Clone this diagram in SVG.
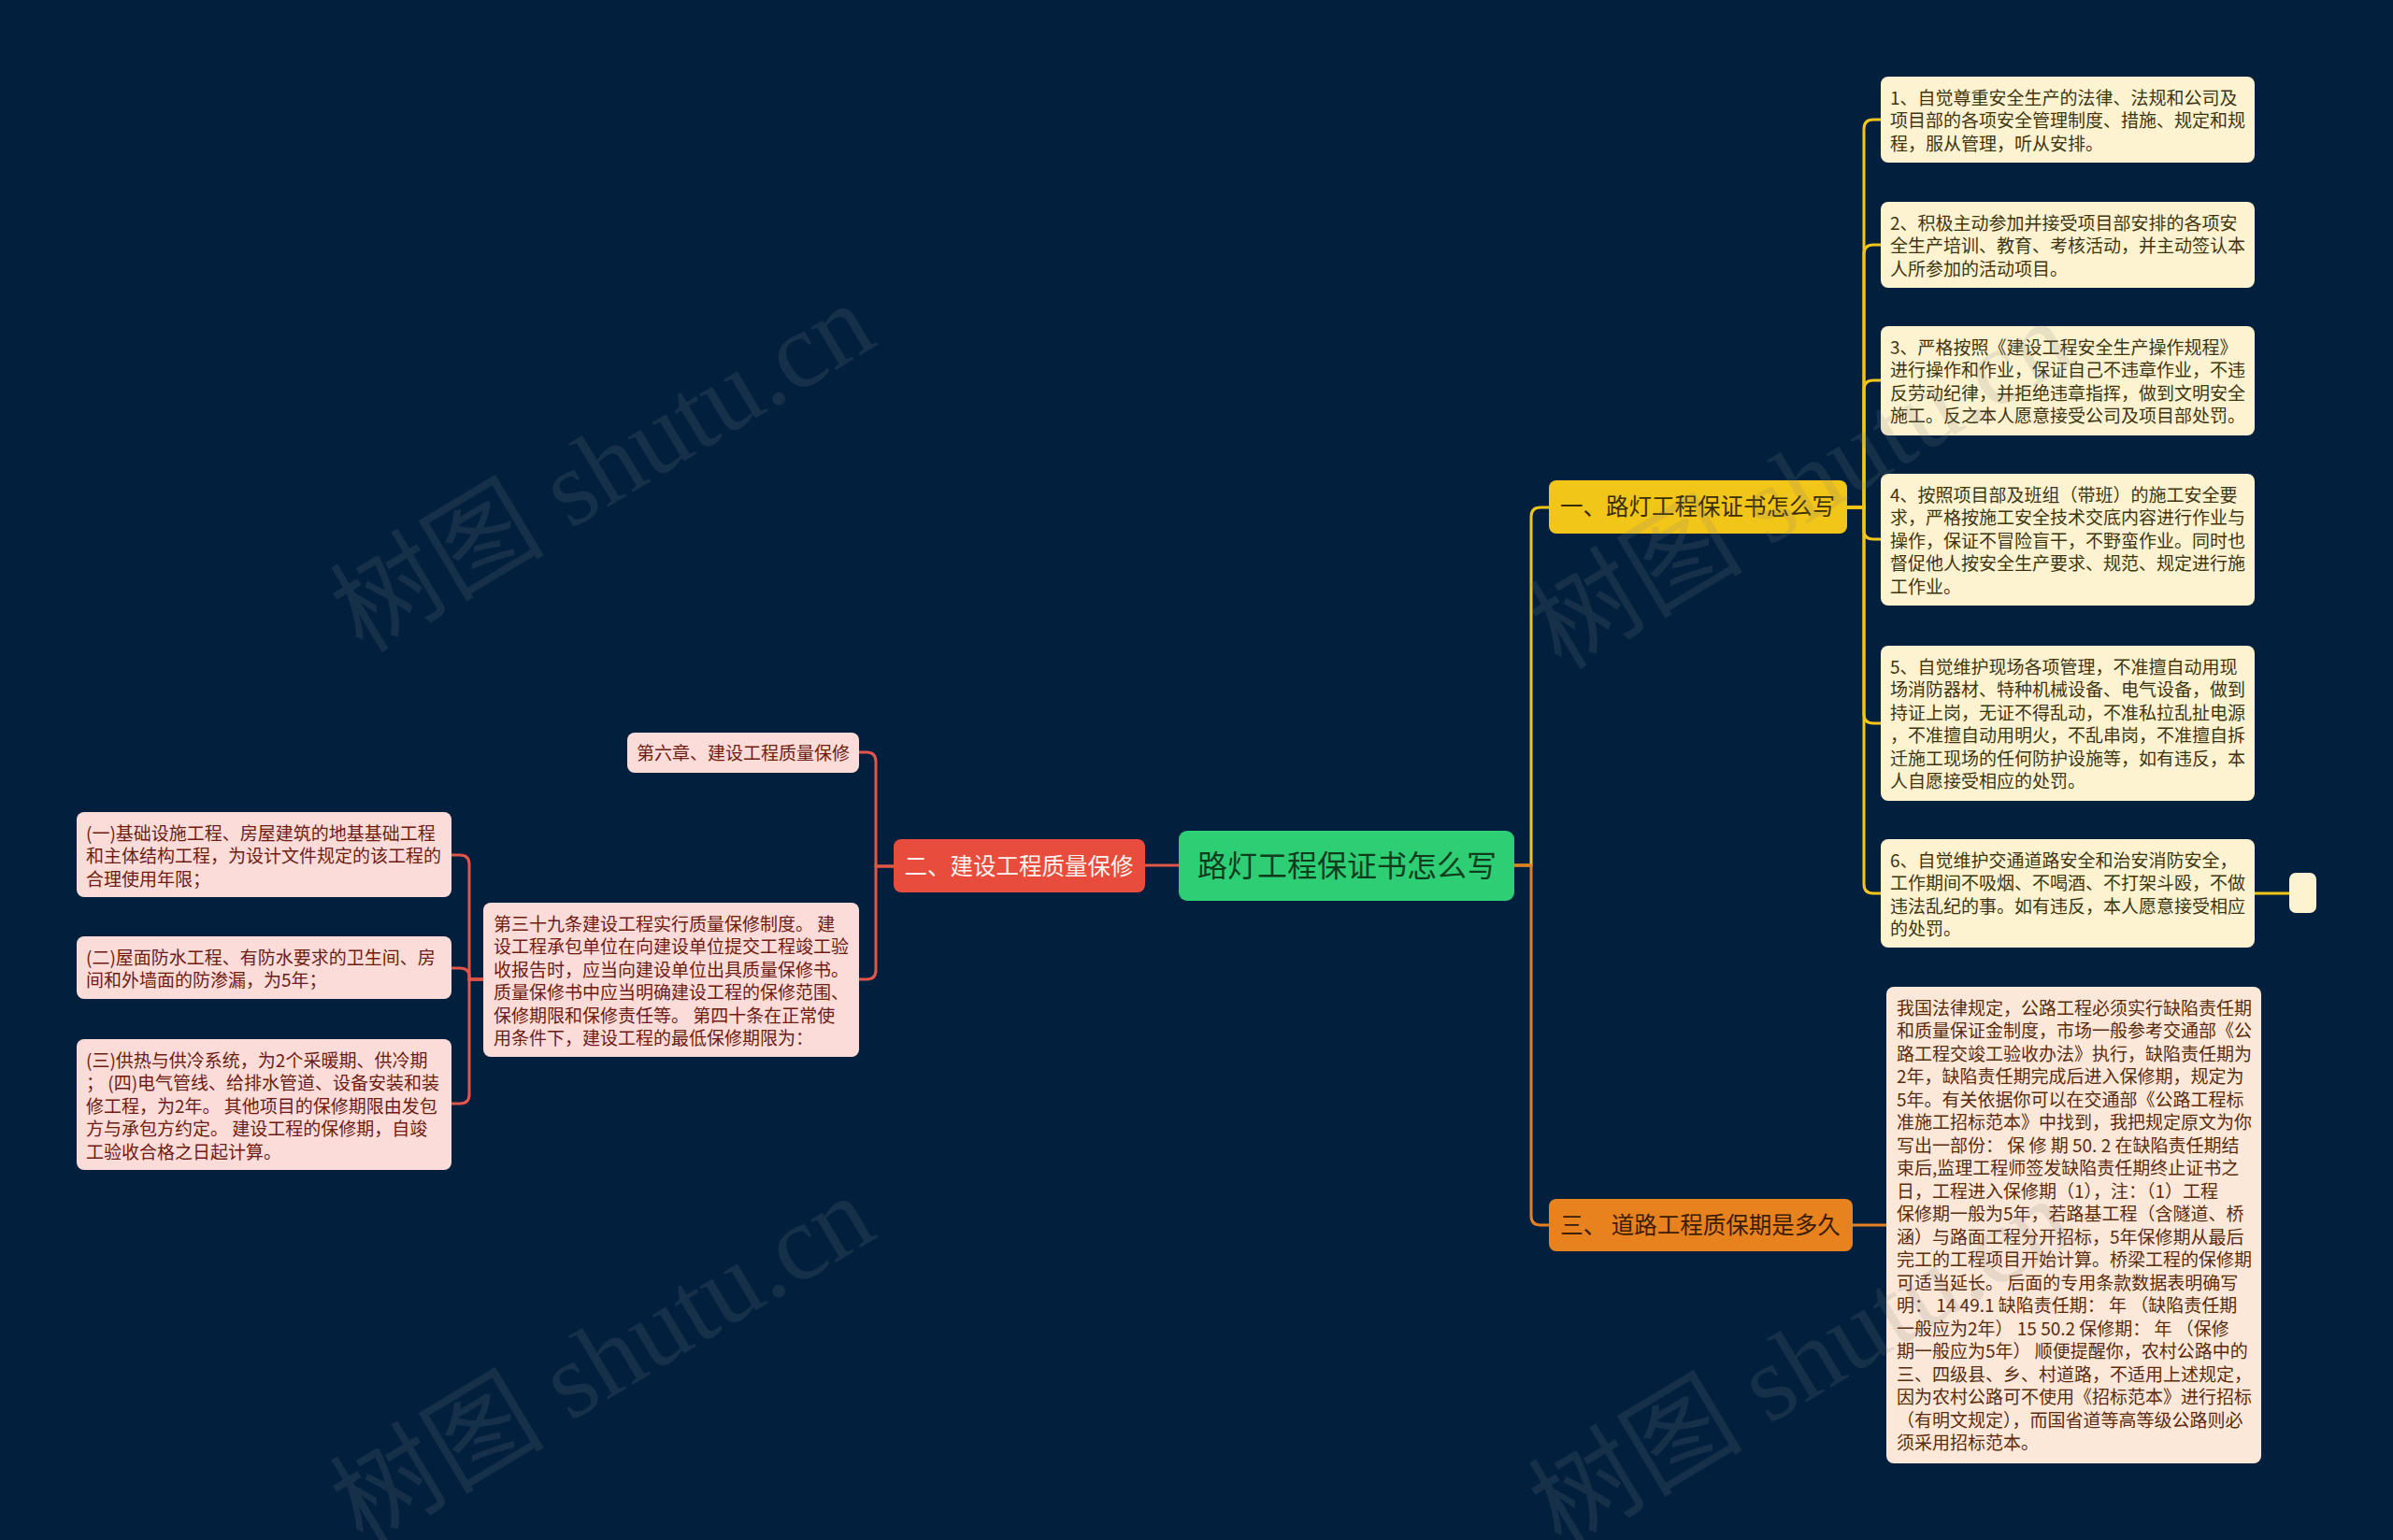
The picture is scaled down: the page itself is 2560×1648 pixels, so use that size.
<svg xmlns="http://www.w3.org/2000/svg" width="2560" height="1648" viewBox="0 0 2560 1648">
<style>
text{font-family:"Noto Sans CJK SC","Liberation Sans",sans-serif;}
.leaf{font-size:19px;}
.ly{fill:#fdf3d0;}
.lyt{fill:#3d3510;}
.lp{fill:#fbdcd8;}
.lpt{fill:#6e1b12;}
.lo{fill:#fce8d8;}
.lot{fill:#5b2b0d;}
.cy{fill:none;stroke:#f2c519;stroke-width:3;}
.cr{fill:none;stroke:#e2564a;stroke-width:3;}
.co{fill:none;stroke:#e67e22;stroke-width:3;}
.wm{font-family:"Liberation Serif","Noto Sans CJK SC",serif;font-size:115px;fill:#808080;fill-opacity:0.17;}
</style>
<rect x="0" y="0" width="2560" height="1648" fill="#02203e"/>

<g id="connectors">
  <path class="cy" d="M1620,926 H1638 V553 Q1638,543 1648,543 H1657"/>
  <path class="co" d="M1620,926 H1638 V1301 Q1638,1311 1648,1311 H1657"/>
  <path class="cr" d="M1261,926 H1225"/>
  <path class="cy" d="M1976,543 H1994 V138 Q1994,128 2004,128 H2012"/>
  <path class="cy" d="M1976,543 H1994 V272 Q1994,262 2004,262 H2012"/>
  <path class="cy" d="M1976,543 H1994 V417 Q1994,407 2004,407 H2012"/>
  <path class="cy" d="M1976,543 H1994 V567 Q1994,577 2004,577 H2012"/>
  <path class="cy" d="M1976,543 H1994 V764 Q1994,774 2004,774 H2012"/>
  <path class="cy" d="M1976,543 H1994 V946 Q1994,956 2004,956 H2012"/>
  <path class="cy" d="M2412,956 H2449"/>
  <path class="co" d="M1982,1311 H2018"/>
  <path class="cr" d="M956,927 H937 V815 Q937,805 927,805 H919"/>
  <path class="cr" d="M956,927 H937 V1038 Q937,1048 927,1048 H919"/>
  <path class="cr" d="M517,1048 H502 V925 Q502,915 492,915 H483"/>
  <path class="cr" d="M517,1048 H502 V1045 Q502,1036 492,1036 H483"/>
  <path class="cr" d="M517,1048 H502 V1171 Q502,1181 492,1181 H483"/>
</g>

<g id="root">
  <rect x="1261" y="889" width="359" height="75" rx="9" fill="#2ecf74"/>
  <text x="1441" y="938" font-size="32" fill="#0e3d1e" text-anchor="middle">路灯工程保证书怎么写</text>
</g>

<g id="branch1">
  <rect x="1657" y="514" width="319" height="57" rx="8" fill="#f2c519"/>
  <text x="1816" y="551" font-size="24.5" fill="#3a2e00" text-anchor="middle">一、路灯工程保证书怎么写</text>
</g>

<g id="branch2">
  <rect x="956" y="898" width="269" height="57" rx="8" fill="#e74c3c"/>
  <text x="1090" y="936" font-size="24.5" fill="#fff3f0" text-anchor="middle">二、建设工程质量保修</text>
</g>

<g id="branch3">
  <rect x="1657" y="1283" width="325" height="56" rx="8" fill="#e8821e"/>
  <text x="1819" y="1320" font-size="24.5" fill="#3d1c00" text-anchor="middle">三、 道路工程质保期是多久</text>
</g>

<g id="n1">
  <rect class="ly" x="2012" y="82" width="400" height="92" rx="8"/>
  <text class="leaf lyt" x="2022" y="111.5"><tspan x="2022">1、自觉尊重安全生产的法律、法规和公司及</tspan><tspan x="2022" dy="24.5">项目部的各项安全管理制度、措施、规定和规</tspan><tspan x="2022" dy="24.5">程，服从管理，听从安排。</tspan></text>
</g>
<g id="n2">
  <rect class="ly" x="2012" y="216" width="400" height="92" rx="8"/>
  <text class="leaf lyt" x="2022" y="245.5"><tspan x="2022">2、积极主动参加并接受项目部安排的各项安</tspan><tspan x="2022" dy="24.5">全生产培训、教育、考核活动，并主动签认本</tspan><tspan x="2022" dy="24.5">人所参加的活动项目。</tspan></text>
</g>
<g id="n3">
  <rect class="ly" x="2012" y="349" width="400" height="117" rx="8"/>
  <text class="leaf lyt" x="2022" y="378.5"><tspan x="2022">3、严格按照《建设工程安全生产操作规程》</tspan><tspan x="2022" dy="24.5">进行操作和作业，保证自己不违章作业，不违</tspan><tspan x="2022" dy="24.5">反劳动纪律，并拒绝违章指挥，做到文明安全</tspan><tspan x="2022" dy="24.5">施工。反之本人愿意接受公司及项目部处罚。</tspan></text>
</g>
<g id="n4">
  <rect class="ly" x="2012" y="507" width="400" height="141" rx="8"/>
  <text class="leaf lyt" x="2022" y="536.5"><tspan x="2022">4、按照项目部及班组（带班）的施工安全要</tspan><tspan x="2022" dy="24.5">求，严格按施工安全技术交底内容进行作业与</tspan><tspan x="2022" dy="24.5">操作，保证不冒险盲干，不野蛮作业。同时也</tspan><tspan x="2022" dy="24.5">督促他人按安全生产要求、规范、规定进行施</tspan><tspan x="2022" dy="24.5">工作业。</tspan></text>
</g>
<g id="n5">
  <rect class="ly" x="2012" y="691" width="400" height="166" rx="8"/>
  <text class="leaf lyt" x="2022" y="720.5"><tspan x="2022">5、自觉维护现场各项管理，不准擅自动用现</tspan><tspan x="2022" dy="24.5">场消防器材、特种机械设备、电气设备，做到</tspan><tspan x="2022" dy="24.5">持证上岗，无证不得乱动，不准私拉乱扯电源</tspan><tspan x="2022" dy="24.5">，不准擅自动用明火，不乱串岗，不准擅自拆</tspan><tspan x="2022" dy="24.5">迁施工现场的任何防护设施等，如有违反，本</tspan><tspan x="2022" dy="24.5">人自愿接受相应的处罚。</tspan></text>
</g>
<g id="n6">
  <rect class="ly" x="2012" y="898" width="400" height="116" rx="8"/>
  <text class="leaf lyt" x="2022" y="927.5"><tspan x="2022">6、自觉维护交通道路安全和治安消防安全，</tspan><tspan x="2022" dy="24.5">工作期间不吸烟、不喝酒、不打架斗殴，不做</tspan><tspan x="2022" dy="24.5">违法乱纪的事。如有违反，本人愿意接受相应</tspan><tspan x="2022" dy="24.5">的处罚。</tspan></text>
</g>
<g id="n6a">
  <rect class="ly" x="2449" y="934" width="29" height="43" rx="7"/>
</g>

<g id="n7">
  <rect class="lo" x="2018" y="1056" width="401" height="510" rx="8"/>
  <text class="leaf lot" x="2029" y="1085.5"><tspan x="2029">我国法律规定，公路工程必须实行缺陷责任期</tspan><tspan x="2029" dy="24.5">和质量保证金制度，市场一般参考交通部《公</tspan><tspan x="2029" dy="24.5">路工程交竣工验收办法》执行，缺陷责任期为</tspan><tspan x="2029" dy="24.5">2年，缺陷责任期完成后进入保修期，规定为</tspan><tspan x="2029" dy="24.5">5年。有关依据你可以在交通部《公路工程标</tspan><tspan x="2029" dy="24.5">准施工招标范本》中找到，我把规定原文为你</tspan><tspan x="2029" dy="24.5">写出一部份： 保 修 期 50. 2 在缺陷责任期结</tspan><tspan x="2029" dy="24.5">束后,监理工程师签发缺陷责任期终止证书之</tspan><tspan x="2029" dy="24.5">日，工程进入保修期（1），注：（1）工程</tspan><tspan x="2029" dy="24.5">保修期一般为5年，若路基工程（含隧道、桥</tspan><tspan x="2029" dy="24.5">涵）与路面工程分开招标，5年保修期从最后</tspan><tspan x="2029" dy="24.5">完工的工程项目开始计算。桥梁工程的保修期</tspan><tspan x="2029" dy="24.5">可适当延长。 后面的专用条款数据表明确写</tspan><tspan x="2029" dy="24.5">明： 14 49.1 缺陷责任期： 年 （缺陷责任期</tspan><tspan x="2029" dy="24.5">一般应为2年） 15 50.2 保修期： 年 （保修</tspan><tspan x="2029" dy="24.5">期一般应为5年） 顺便提醒你，农村公路中的</tspan><tspan x="2029" dy="24.5">三、四级县、乡、村道路，不适用上述规定，</tspan><tspan x="2029" dy="24.5">因为农村公路可不使用《招标范本》进行招标</tspan><tspan x="2029" dy="24.5">（有明文规定），而国省道等高等级公路则必</tspan><tspan x="2029" dy="24.5">须采用招标范本。</tspan></text>
</g>

<g id="p1">
  <rect class="lp" x="671" y="784" width="248" height="43" rx="8"/>
  <text class="leaf lpt" x="681" y="812.5">第六章、建设工程质量保修</text>
</g>
<g id="p2">
  <rect class="lp" x="517" y="966" width="402" height="165" rx="8"/>
  <text class="leaf lpt" x="528" y="995.5"><tspan x="528">第三十九条建设工程实行质量保修制度。 建</tspan><tspan x="528" dy="24.5">设工程承包单位在向建设单位提交工程竣工验</tspan><tspan x="528" dy="24.5">收报告时，应当向建设单位出具质量保修书。</tspan><tspan x="528" dy="24.5">质量保修书中应当明确建设工程的保修范围、</tspan><tspan x="528" dy="24.5">保修期限和保修责任等。 第四十条在正常使</tspan><tspan x="528" dy="24.5">用条件下，建设工程的最低保修期限为：</tspan></text>
</g>
<g id="c1">
  <rect class="lp" x="82" y="869" width="401" height="91" rx="8"/>
  <text class="leaf lpt" x="92" y="898.5"><tspan x="92">(一)基础设施工程、房屋建筑的地基基础工程</tspan><tspan x="92" dy="24.5">和主体结构工程，为设计文件规定的该工程的</tspan><tspan x="92" dy="24.5">合理使用年限；</tspan></text>
</g>
<g id="c2">
  <rect class="lp" x="82" y="1002" width="401" height="67" rx="8"/>
  <text class="leaf lpt" x="92" y="1031.5"><tspan x="92">(二)屋面防水工程、有防水要求的卫生间、房</tspan><tspan x="92" dy="24.5">间和外墙面的防渗漏，为5年；</tspan></text>
</g>
<g id="c3">
  <rect class="lp" x="82" y="1112" width="401" height="140" rx="8"/>
  <text class="leaf lpt" x="92" y="1141.5"><tspan x="92">(三)供热与供冷系统，为2个采暖期、供冷期</tspan><tspan x="92" dy="24.5">； (四)电气管线、给排水管道、设备安装和装</tspan><tspan x="92" dy="24.5">修工程，为2年。 其他项目的保修期限由发包</tspan><tspan x="92" dy="24.5">方与承包方约定。 建设工程的保修期，自竣</tspan><tspan x="92" dy="24.5">工验收合格之日起计算。</tspan></text>
</g>

<g id="watermarks">
  <text class="wm" x="388" y="700" transform="rotate(-31 388 700)">树图 shutu.cn</text>
  <text class="wm" x="388" y="1655" transform="rotate(-31 388 1655)">树图 shutu.cn</text>
  <text class="wm" x="1670" y="718" transform="rotate(-31 1670 718)">树图 shutu.cn</text>
  <text class="wm" x="1670" y="1658" transform="rotate(-31 1670 1658)">树图 shutu.cn</text>
</g>
</svg>
